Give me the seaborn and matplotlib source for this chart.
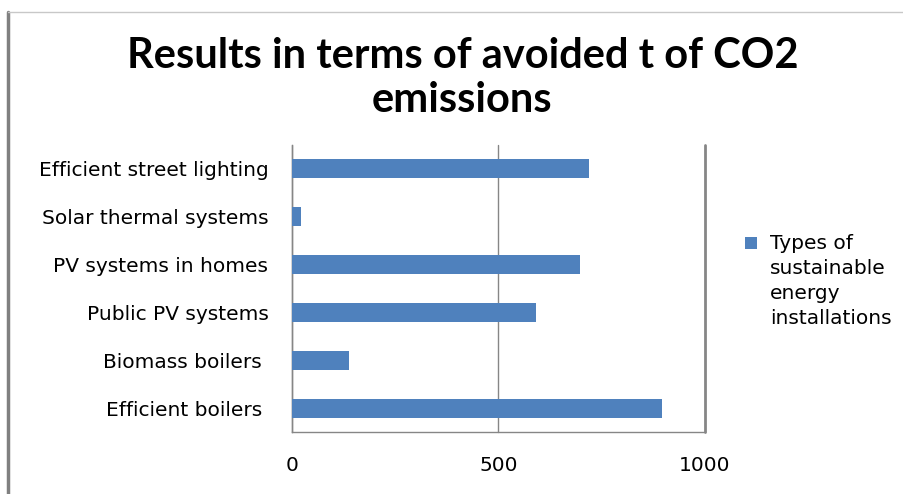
import numpy as np
import pandas as pd
import matplotlib
matplotlib.use("Agg")
import matplotlib.pyplot as plt
from matplotlib.patches import Rectangle
from matplotlib.legend_handler import HandlerPatch
import seaborn as sns

# Data
categories = [
    "Efficient street lighting",
    "Solar thermal systems",
    "PV systems in homes",
    "Public PV systems",
    "Biomass boilers ",
    "Efficient boilers ",
]
avoided_t = [720, 21, 698, 591, 137, 895]
series_name = "Types of\nsustainable\nenergy\ninstallations"
x_ticks = [0, 500, 1000]

BAR_COLOR = "#4F81BD"
AXIS_COLOR = "#868686"
FONTSIZE = 14.5
LEG_LINESPACING = 1.4

sns.set_style("white")
plt.rcParams["font.family"] = ["DejaVu Sans"]
plt.rcParams["text.color"] = "black"

df = pd.DataFrame({"category": categories, "value": avoided_t, "series": series_name})

fig = plt.figure(figsize=(9.04, 4.94), dpi=100)
ax = fig.add_axes([292 / 904, 1 - 432 / 494, (705 - 292) / 904, (432 - 145) / 494])

sns.barplot(
    data=df,
    x="value",
    y="category",
    hue="series",
    palette=[BAR_COLOR],
    orient="h",
    width=0.4,
    saturation=1,
    linewidth=0,
    ax=ax,
    zorder=3,
)

ax.set_xlim(0, 1000)
ax.set_ylim(len(categories) - 0.5, -0.5)
ax.set_xlabel("")
ax.set_ylabel("")

# Grid
ax.set_xticks(x_ticks)
ax.set_xticklabels([str(t) for t in x_ticks], fontsize=FONTSIZE, color="black")
ax.xaxis.grid(True, color=AXIS_COLOR, linewidth=1.0, zorder=0)
for gl in ax.get_xgridlines():
    gl.set_clip_on(False)
ax.get_xgridlines()[-1].set_linewidth(2.0)
ax.set_axisbelow(True)

# Category tick marks at boundaries, labels at centres
ax.set_yticks(np.arange(len(categories)))
ax.set_yticklabels(categories, fontsize=FONTSIZE, color="black")
ax.set_yticks(np.arange(len(categories) + 1) - 0.5, minor=True)
ax.tick_params(axis="y", which="major", length=0, pad=17)
ax.tick_params(axis="y", which="minor", length=7, width=1, color=AXIS_COLOR, direction="out")
ax.tick_params(axis="x", which="major", length=5, width=1, color=AXIS_COLOR, direction="out", pad=12)

for side in ["top", "right"]:
    ax.spines[side].set_visible(False)
for side in ["left", "bottom"]:
    ax.spines[side].set_color(AXIS_COLOR)
    ax.spines[side].set_linewidth(1.0)


# Legend: square sits next to the first line of the multi-line label
def top_square(legend, orig_handle, xdescent, ydescent, width, height, fontsize):
    sq = 0.6 * fontsize
    n_lines = series_name.count("\n")
    first_line_mid = (n_lines * LEG_LINESPACING * 0.945 - 1.72) * fontsize
    return Rectangle((-xdescent, first_line_mid - sq / 2), sq, sq)


handles, labels = ax.get_legend_handles_labels()
leg = ax.legend(
    handles,
    labels,
    loc="upper left",
    bbox_to_anchor=(745 / 904, 1 - 234 / 494),
    bbox_transform=fig.transFigure,
    frameon=False,
    fontsize=FONTSIZE,
    handlelength=0.6,
    handletextpad=0.65,
    borderpad=0,
    borderaxespad=0,
    handler_map={type(handles[0]): HandlerPatch(patch_func=top_square)},
)
for t in leg.get_texts():
    t.set_linespacing(LEG_LINESPACING)

# Title
fig.text(
    0.5 * (128 + 797) / 904,
    1 - 78 / 494,
    "Results in terms of avoided t of CO2\nemissions",
    ha="center",
    va="center",
    fontsize=30,
    fontweight="bold",
    family="Lato",
    color="black",
    linespacing=1.2,
)

# Chart area border (left and top)
fig.add_artist(plt.Line2D([8 / 904, 8 / 904], [0, 1 - 12 / 494], transform=fig.transFigure, color="#808080", linewidth=2.5))
fig.add_artist(plt.Line2D([8 / 904, 1], [1 - 12 / 494, 1 - 12 / 494], transform=fig.transFigure, color="#c8c8c8", linewidth=1))

fig.savefig("out.png", dpi=100)
